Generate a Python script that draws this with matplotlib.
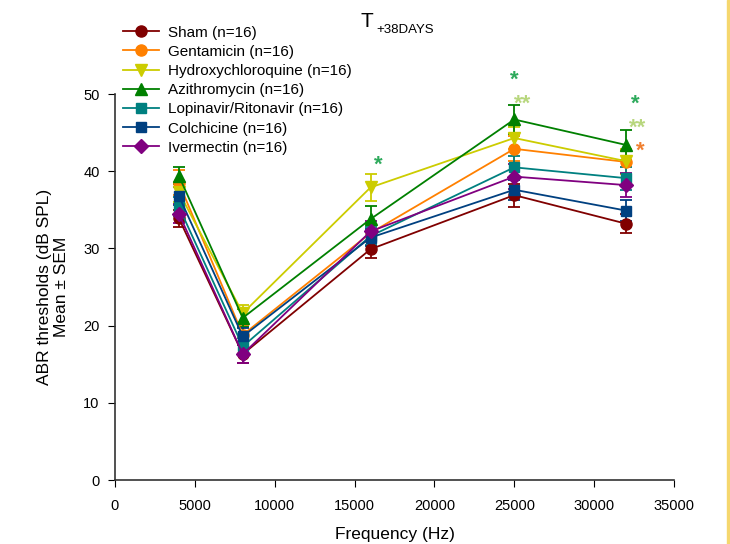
import matplotlib
matplotlib.use("Agg")
import matplotlib.pyplot as plt
from matplotlib.lines import Line2D

plt.rcParams["font.family"] = ["Liberation Sans", "DejaVu Sans"]

# frequencies tested (Hz)
freq = [4000, 8000, 16000, 25000, 32000]

# group names
groups = [
    "Sham (n=16)",
    "Gentamicin (n=16)",
    "Hydroxychloroquine (n=16)",
    "Azithromycin (n=16)",
    "Lopinavir/Ritonavir (n=16)",
    "Colchicine (n=16)",
    "Ivermectin (n=16)",
]

# mean ABR thresholds (dB SPL)
sham = [33.9, 16.3, 29.9, 36.9, 33.2]
gentamicin = [38.5, 18.8, 32.0, 42.9, 41.2]
hydroxychloroquine = [37.3, 21.6, 37.9, 44.3, 41.3]
azithromycin = [39.4, 21.0, 33.8, 46.7, 43.4]
lopinavir = [35.4, 17.3, 31.6, 40.5, 39.1]
colchicine = [36.8, 18.6, 31.4, 37.6, 34.9]
ivermectin = [34.5, 16.3, 32.2, 39.3, 38.2]

# SEM
sham_sem = [1.1, 1.2, 1.1, 1.5, 1.2]
gentamicin_sem = [1.6, 1.2, 1.2, 1.6, 1.5]
hydroxychloroquine_sem = [1.3, 1.1, 1.7, 1.4, 1.6]
azithromycin_sem = [1.1, 1.2, 1.7, 1.9, 1.9]
lopinavir_sem = [1.2, 1.1, 1.2, 1.5, 1.5]
colchicine_sem = [1.2, 1.1, 1.1, 1.3, 1.4]
ivermectin_sem = [1.2, 1.2, 1.3, 1.6, 1.6]

means = [sham, gentamicin, hydroxychloroquine, azithromycin,
         lopinavir, colchicine, ivermectin]
sems = [sham_sem, gentamicin_sem, hydroxychloroquine_sem, azithromycin_sem,
        lopinavir_sem, colchicine_sem, ivermectin_sem]

colors = ["#800000", "#FF8000", "#CCCC00", "#008000",
          "#008080", "#004080", "#800080"]
markers = ["o", "o", "v", "^", "s", "s", "D"]
msizes = [8, 8, 8, 8, 7, 7, 7]

# significance marks
stars_x = [16500, 25000, 25500, 32600, 32700, 32900]
stars_y = [40.8, 51.8, 48.7, 48.7, 45.6, 42.6]
stars_txt = ["*", "*", "**", "*", "**", "*"]
stars_col = ["#2EAA5C", "#2EAA5C", "#B8D77E", "#2EAA5C", "#B8D77E", "#F07F30"]

fig = plt.figure(figsize=(7.3, 5.44), dpi=100)
ax = fig.add_axes([0.1575, 0.1176, 0.7658, 0.7096])

handles = []
for name, m, s, c, mk, ms in zip(groups, means, sems, colors, markers, msizes):
    ax.errorbar(freq, m, yerr=s, color=c, marker=mk, markersize=ms,
                linewidth=1.3, elinewidth=1.3, capsize=4, capthick=1.3)
    handles.append(Line2D([], [], color=c, marker=mk, markersize=ms,
                          linewidth=1.3, label=name))

for x, y, t, c in zip(stars_x, stars_y, stars_txt, stars_col):
    ax.text(x, y, t, color=c, fontsize=16, fontweight="bold",
            ha="center", va="center", clip_on=False)

ax.set_xlim(0, 35000)
ax.set_ylim(0, 50)
ax.set_xticks(range(0, 35001, 5000))
ax.set_yticks(range(0, 51, 10))
ax.tick_params(direction="out", length=5, labelsize=10.5, pad=9)
ax.tick_params(axis="y", pad=6)
ax.spines["top"].set_visible(False)
ax.spines["right"].set_visible(False)
for sp in ["left", "bottom"]:
    ax.spines[sp].set_color("#333333")
    ax.spines[sp].set_linewidth(1.2)

ax.set_xlabel("Frequency (Hz)", fontsize=12.5, labelpad=10)
ax.set_ylabel("ABR thresholds (dB SPL)\nMean ± SEM", fontsize=12.5,
              labelpad=10)

fig.legend(handles=handles, loc="upper left", bbox_to_anchor=(0.169, 0.953),
           frameon=False, fontsize=11, handlelength=2.3, labelspacing=0.34,
           handletextpad=0.65, borderpad=0, borderaxespad=0)

fig.text(0.503, 0.96, "T", fontsize=15, ha="center", va="center")
fig.text(0.516, 0.944, "+38DAYS", fontsize=9.5, ha="left", va="center")

# yellow border strip on the right edge
fig.patches.append(plt.Rectangle((0.9965, 0), 0.0035, 1, color="#F5D76E",
                                 transform=fig.transFigure, figure=fig))

fig.savefig("out.png", dpi=100)
